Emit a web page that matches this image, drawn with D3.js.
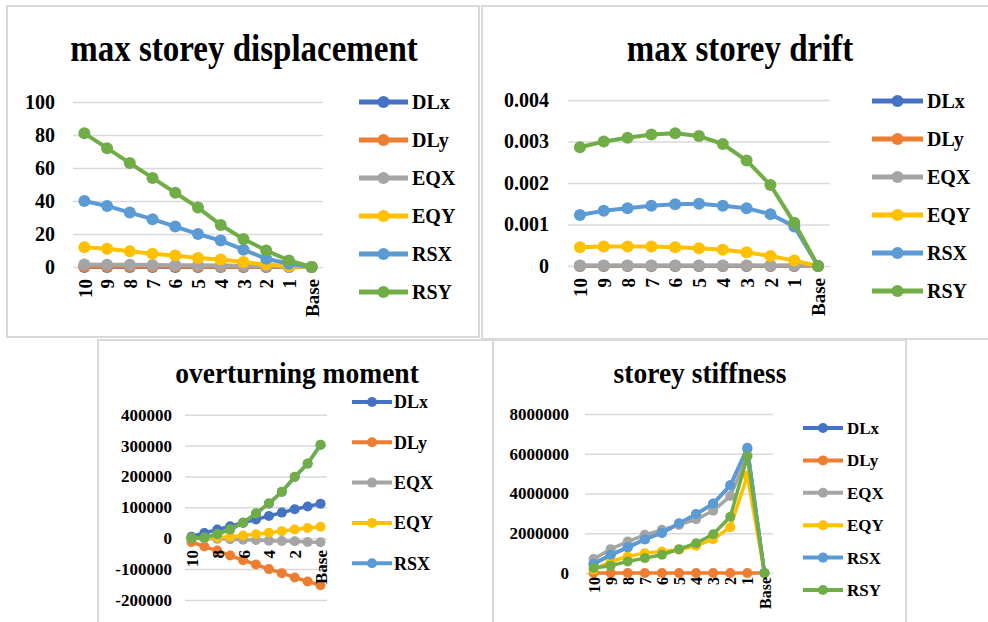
<!DOCTYPE html>
<html><head><meta charset="utf-8">
<script src="https://cdn.jsdelivr.net/npm/d3@7"></script>
<style>
body{margin:0;background:#fff;}
svg{display:block;font-family:"Liberation Serif","Times New Roman",serif;font-weight:bold;}
</style></head>
<body><svg id="c" width="988" height="622"></svg>
<script>
const categories = ["10","9","8","7","6","5","4","3","2","1","Base"];
const seriesNames = ["DLx","DLy","EQX","EQY","RSX","RSY"];
const seriesColors = ["#4472C4","#ED7D31","#A5A5A5","#FFC000","#5B9BD5","#70AD47"];

// max storey displacement
const dispDLx = [0,0,0,0,0,0,0,0,0,0,0];
const dispDLy = [0.3,0.3,0.3,0.3,0.3,0.2,0.2,0.2,0.1,0.1,0];
const dispEQX = [1.5,1.4,1.3,1.2,1.1,1,0.9,0.7,0.5,0.3,0];
const dispEQY = [12,11,9.5,8,7,5.5,4.5,3,1.5,0.5,0];
const dispRSX = [40,37,33,29,24.5,20,16,10.5,5,2,0];
const dispRSY = [81,72,63,54,45,36,25.5,17,10,4,0];
const dispTicks = [0,20,40,60,80,100];
const dispTickLabels = ["0","20","40","60","80","100"];

// max storey drift
const driftDLx = [0,0,0,0,0,0,0,0,0,0,0];
const driftDLy = [0.000005,0.000005,0.000005,0.000005,0.000005,0.000005,0.000005,0.000005,0.000005,0.000005,0];
const driftEQX = [0.00001,0.00001,0.00001,0.00001,0.00001,0.00001,0.00001,0.00001,0.00001,0.00001,0];
const driftEQY = [0.00045,0.00047,0.00047,0.00047,0.00045,0.00043,0.00039,0.00033,0.00024,0.00013,0];
const driftRSX = [0.00123,0.00133,0.00139,0.00145,0.00149,0.0015,0.00145,0.00139,0.00125,0.00095,0];
const driftRSY = [0.00286,0.003,0.00309,0.00317,0.0032,0.00313,0.00294,0.00254,0.00195,0.00104,0];
const driftTicks = [0,0.001,0.002,0.003,0.004];
const driftTickLabels = ["0","0.001","0.002","0.003","0.004"];

// overturning moment
const momDLx = [5000,17000,28000,39000,50000,61000,72000,83000,94000,103000,112000];
const momDLy = [-12000,-27000,-40000,-56000,-71000,-85000,-100000,-113000,-127000,-140000,-152000];
const momEQX = [0,-1000,-2000,-3000,-5000,-6000,-8000,-9000,-10000,-12000,-13000];
const momEQY = [0,1000,2500,5000,9000,13000,18000,23000,28000,33000,37000];
const momRSX = [0,2000,13000,28000,50000,80000,112000,150000,198000,241000,302000];
const momRSY = [0,2000,14000,29000,50500,80600,113000,150500,199000,242000,303000];
const momTicks = [-200000,-100000,0,100000,200000,300000,400000];
const momTickLabels = ["-200000","-100000","0","100000","200000","300000","400000"];

// storey stiffness
const stiffDLx = [460000,900000,1290000,1690000,2020000,2480000,2950000,3480000,4400000,6250000,0];
const stiffDLy = [0,0,0,0,0,0,0,0,0,0,0];
const stiffEQX = [700000,1200000,1580000,1920000,2170000,2420000,2700000,3130000,3870000,5900000,0];
const stiffEQY = [170000,580000,830000,1000000,1080000,1170000,1370000,1700000,2300000,4900000,0];
const stiffRSX = [467000,917000,1300000,1700000,2030000,2500000,2970000,3500000,4420000,6300000,0];
const stiffRSY = [250000,370000,580000,750000,920000,1200000,1500000,1950000,2830000,5870000,0];
const stiffTicks = [0,2000000,4000000,6000000,8000000];
const stiffTickLabels = ["0","2000000","4000000","6000000","8000000"];

const svg = d3.select("#c");

// panel frames
const frames = [[7,6,472,331],[482,6,510,333],[98,340,395,290],[493,340,413,290]];
svg.selectAll("rect.frame").data(frames).enter().append("rect")
  .attr("x",d=>d[0]).attr("y",d=>d[1]).attr("width",d=>d[2]).attr("height",d=>d[3])
  .attr("fill","none").attr("stroke","#d9d9d9").attr("stroke-width",2);

function drawChart(cfg){
  const g = svg.append("g");
  const x = d3.scalePoint().domain(categories).range([cfg.x0,cfg.x1]).padding(0.5);
  const y = d3.scaleLinear().domain(cfg.domain).range([cfg.yb,cfg.yt]);
  // title
  g.append("text").attr("transform",`translate(${cfg.tx},${cfg.ty}) scale(1,${cfg.tsy})`)
    .attr("text-anchor","middle")
    .attr("font-size",cfg.tfs).attr("fill","#000").text(cfg.title);
  // y axis with gridlines
  const ya = g.append("g").attr("transform",`translate(${cfg.x0},0)`)
    .call(d3.axisLeft(y).tickValues(cfg.ticks).tickSize(-(cfg.x1-cfg.x0))
      .tickPadding(cfg.x0-cfg.labelX).tickFormat((d,i)=>cfg.tickLabels[i]));
  ya.select(".domain").remove();
  ya.selectAll("line").attr("stroke","#d9d9d9").attr("stroke-width",1.5);
  ya.selectAll("text").attr("font-size",cfg.yfs).attr("font-family","Liberation Serif").attr("font-weight","bold").attr("fill","#000");
  // lines
  cfg.series.forEach((vals,si)=>{
    const line = d3.line().x((d,i)=>x(categories[i])).y(d=>y(d));
    g.append("path").attr("d",line(vals)).attr("fill","none")
      .attr("stroke",seriesColors[si]).attr("stroke-width",cfg.lw).attr("stroke-linejoin","round");
    g.selectAll(null).data(vals).enter().append("circle")
      .attr("cx",(d,i)=>x(categories[i])).attr("cy",d=>y(d)).attr("r",cfg.mr)
      .attr("fill",seriesColors[si]);
  });
  // x axis labels
  const xa = g.append("g").attr("transform",`translate(0,${cfg.xlabY})`)
    .call(d3.axisBottom(x).tickSize(0).tickPadding(0)
      .tickValues(categories.filter((d,i)=>i % cfg.xEvery===0)));
  xa.select(".domain").remove();
  xa.selectAll("text").attr("transform","rotate(-90)").attr("text-anchor","end")
    .attr("x",0).attr("y",0).attr("dy","0.35em")
    .attr("font-size",cfg.xfs).attr("font-family","Liberation Serif").attr("font-weight","bold").attr("fill","#000");
  // legend
  const n = cfg.legendCount;
  const lg = g.append("g");
  for(let i=0;i<n;i++){
    const yy = cfg.lgY0 + i*cfg.lgDy;
    lg.append("line").attr("x1",cfg.lgX0).attr("x2",cfg.lgX1).attr("y1",yy).attr("y2",yy)
      .attr("stroke",seriesColors[i]).attr("stroke-width",cfg.lgLw);
    lg.append("circle").attr("cx",(cfg.lgX0+cfg.lgX1)/2).attr("cy",yy).attr("r",cfg.lgMr).attr("fill",seriesColors[i]);
    lg.append("text").attr("x",cfg.lgTx).attr("y",yy).attr("dy","0.35em")
      .attr("font-size",cfg.lgfs).attr("fill","#000").text(seriesNames[i]);
  }
}

drawChart({title:"max storey displacement",tx:244,ty:61,tfs:33,tsy:1.18,
  x0:73,x1:323,yb:267,yt:102,domain:[0,100],ticks:dispTicks,tickLabels:dispTickLabels,
  labelX:55,yfs:20,xlabY:279,xfs:19,xEvery:1,lw:4,mr:6,
  series:[dispDLx,dispDLy,dispEQX,dispEQY,dispRSX,dispRSY],
  legendCount:6,lgX0:359,lgX1:408,lgTx:412,lgY0:102,lgDy:38,lgLw:5,lgMr:6,lgfs:20});

drawChart({title:"max storey drift",tx:740,ty:61,tfs:33,tsy:1.18,
  x0:568,x1:830,yb:266,yt:100,domain:[0,0.004],ticks:driftTicks,tickLabels:driftTickLabels,
  labelX:549,yfs:20,xlabY:278,xfs:19,xEvery:1,lw:4,mr:6,
  series:[driftDLx,driftDLy,driftEQX,driftEQY,driftRSX,driftRSY],
  legendCount:6,lgX0:872,lgX1:923,lgTx:927,lgY0:101,lgDy:38,lgLw:5,lgMr:6,lgfs:20});

drawChart({title:"overturning moment",tx:297,ty:383,tfs:27.5,tsy:1.05,
  x0:185,x1:327,yb:600,yt:414.7,domain:[-200000,400000],ticks:momTicks,tickLabels:momTickLabels,
  labelX:172,yfs:17,xlabY:550,xfs:17,xEvery:2,lw:3.5,mr:5,
  series:[momDLx,momDLy,momEQX,momEQY,momRSX,momRSY],
  legendCount:5,lgX0:352,lgX1:392,lgTx:394,lgY0:402,lgDy:40.3,lgLw:4,lgMr:5,lgfs:18});

drawChart({title:"storey stiffness",tx:700,ty:383,tfs:27.5,tsy:1.05,
  x0:585,x1:773,yb:573,yt:414,domain:[0,8000000],ticks:stiffTicks,tickLabels:stiffTickLabels,
  labelX:569,yfs:17,xlabY:577,xfs:16,xEvery:1,lw:3.5,mr:5,
  series:[stiffDLx,stiffDLy,stiffEQX,stiffEQY,stiffRSX,stiffRSY],
  legendCount:6,lgX0:803,lgX1:843,lgTx:847,lgY0:428,lgDy:32.4,lgLw:4,lgMr:5,lgfs:17});
</script></body></html>
